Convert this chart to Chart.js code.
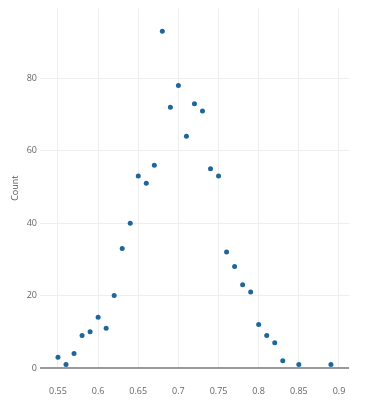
<!DOCTYPE html>
<html>
<head>
<meta charset="utf-8">
<script src="https://cdn.jsdelivr.net/npm/chart.js@4/dist/chart.umd.min.js"></script>
<style>
  html, body { margin: 0; padding: 0; background: #fff; }
  #wrap { width: 365px; height: 400px; }
</style>
</head>
<body>
<div id="wrap"><canvas id="chart"></canvas></div>
<script>
const scores = [0.55, 0.56, 0.57, 0.58, 0.59, 0.60, 0.61, 0.62, 0.63, 0.64,
  0.65, 0.66, 0.67, 0.68, 0.69, 0.70, 0.71, 0.72, 0.73, 0.74,
  0.75, 0.76, 0.77, 0.78, 0.79, 0.80, 0.81, 0.82, 0.83, 0.85, 0.89]
const counts = [3, 1, 4, 9, 10, 14, 11, 20, 33, 40,
  53, 51, 56, 93, 72, 78, 64, 73, 71, 55,
  53, 32, 28, 23, 21, 12, 9, 7, 2, 1, 1]
const xTicks = [0.55, 0.6, 0.65, 0.7, 0.75, 0.8, 0.85, 0.9]
const yTicks = [0, 20, 40, 60, 80]

const tickFont = { family: 'Open Sans', size: 9 }

new Chart(document.getElementById('chart'), {
  type: 'scatter',
  data: {
    datasets: [{
      data: scores.map((s, i) => ({ x: s, y: counts[i] })),
      backgroundColor: '#1f6798',
      borderWidth: 0,
      pointRadius: 2.5
    }]
  },
  options: {
    responsive: true,
    maintainAspectRatio: false,
    animation: false,
    layout: { padding: { top: 2, right: 16, left: 0, bottom: 0 } },
    plugins: { legend: { display: false }, tooltip: { enabled: false } },
    scales: {
      x: {
        type: 'linear',
        min: 0.5276,
        max: 0.9125,
        afterBuildTicks: scale => { scale.ticks = xTicks.map(v => ({ value: v })) },
        afterFit: scale => { scale.height = 32 },
        border: { display: false },
        grid: { color: '#eeeeee', lineWidth: 1, drawTicks: false },
        ticks: {
          padding: 18,
          color: '#666',
          font: tickFont,
          maxRotation: 0,
          callback: v => String(Math.round(v * 100) / 100)
        }
      },
      y: {
        min: 0,
        max: 99.3,
        afterBuildTicks: scale => { scale.ticks = yTicks.map(v => ({ value: v })) },
        afterFit: scale => { scale.width = 40 },
        border: { display: false },
        grid: {
          drawTicks: false,
          color: ctx => ctx.tick && ctx.tick.value === 0 ? '#999999' : '#eeeeee',
          lineWidth: ctx => ctx.tick && ctx.tick.value === 0 ? 2 : 1
        },
        ticks: { padding: 3, color: '#666', font: tickFont },
        title: {
          display: true,
          text: 'Count',
          color: '#555',
          font: { family: 'Open Sans', size: 9 },
          padding: { top: 10, bottom: 0 }
        }
      }
    }
  }
})
</script>
</body>
</html>
